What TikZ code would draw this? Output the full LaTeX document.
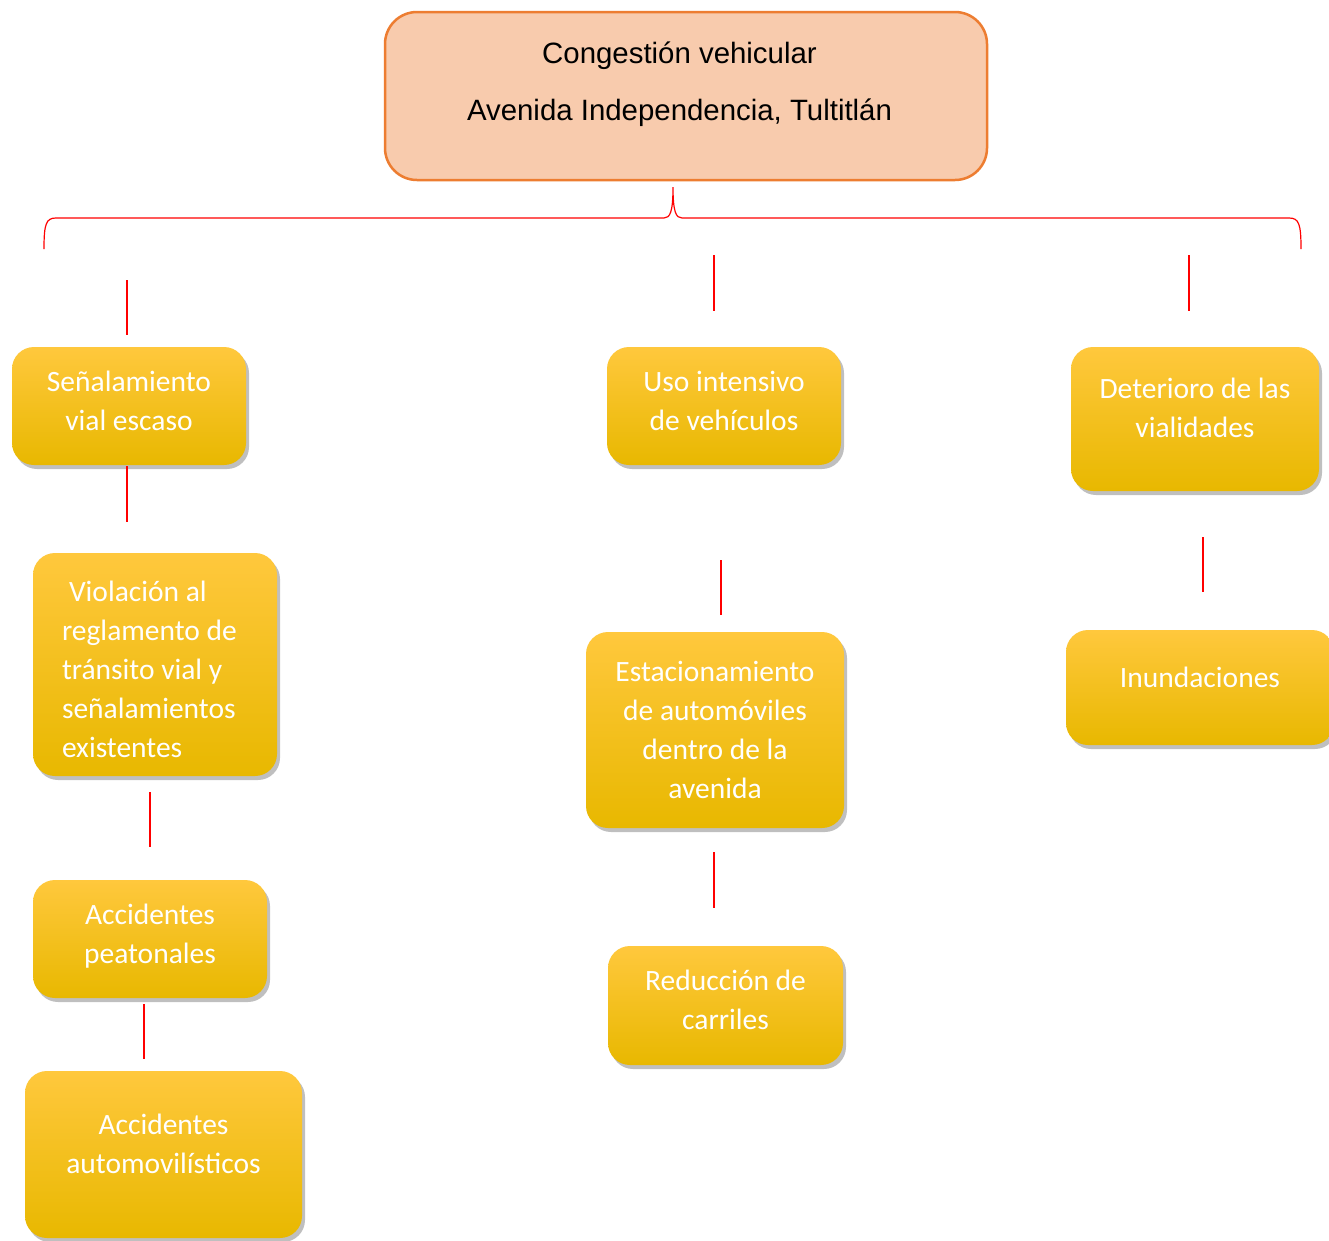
\documentclass[tikz,border=0pt]{standalone}
\usepackage{fontspec}
\setmainfont{Carlito}
\newfontfamily\arialf{Liberation Sans}
\usetikzlibrary{shadows}
\definecolor{peach}{HTML}{F8CBAD}
\definecolor{orangeb}{HTML}{ED7D31}
\definecolor{ytop}{HTML}{FFC83D}
\definecolor{ymid}{HTML}{FFC000}
\definecolor{ybot}{HTML}{E8B800}
\newcommand{\liftup}[1]{\\[#1]\mbox{}}
\tikzset{
  ybox/.style={rectangle, rounded corners=22, top color=ytop, middle color=ymid, bottom color=ybot,
    text=white, font=\fontsize{29.5}{39}\selectfont, align=center, inner sep=0pt,
    drop shadow={shadow xshift=3pt, shadow yshift=-4pt, fill=black, opacity=0.25}},
  topbox/.style={rectangle, rounded corners=32, fill=peach, draw=orangeb, line width=2.5pt,
    font=\arialf\fontsize{29.4}{57}\selectfont, inner sep=0pt},
  rline/.style={draw=red, line width=1.2pt},
}
\begin{document}
\begin{tikzpicture}[x=1pt,y=-1pt]
\clip (0,0) rectangle (1329,1240);
\fill[white] (0,0) rectangle (1329,1240);

\node[topbox, minimum width=602, minimum height=168] (top) at (686,96)
  {\raisebox{9.5pt}[0pt][0pt]{\begin{tabular}{@{}c@{}}Congestión vehicular\\Avenida Independencia, Tultitlán\end{tabular}}\hspace*{13pt}};

% brace
\coordinate (bl) at (44,249);
\coordinate (br) at (1301,249);
\coordinate (bt) at (673,187);
\draw[red, line width=1.2pt] (bl) .. controls (44,224) and (46,218) .. (56,218) -- (664,218)
  .. controls (670,218) and (673,212) .. (bt) .. controls (673,212) and (676,218) .. (682,218)
  -- (1289,218) .. controls (1299,218) and (1301,224) .. (br);

% boxes
\node[ybox, minimum width=234, minimum height=118] (b1) at (129,406) {Señalamiento\\vial escaso\liftup{-28pt}};
\node[ybox, minimum width=234, minimum height=118] (b2) at (724,406) {Uso intensivo\\de vehículos\liftup{-28pt}};
\node[ybox, minimum width=248, minimum height=144] (b3) at (1195,419) {Deterioro de las\\vialidades\liftup{-17pt}};
\node[ybox, minimum height=223, text width=186, inner xsep=29, align=flush left] (b4) at (155,664.5)
  {\rule{0pt}{31pt}\hspace*{7pt}Violación al\\reglamento de\\tránsito vial y\\señalamientos\\existentes};
\node[ybox, minimum width=234, minimum height=118] (b5) at (150,939) {Accidentes\\peatonales\liftup{-28pt}};
\node[ybox, minimum width=277, minimum height=167] (b6) at (163.5,1154.5) {Accidentes\\automovilísticos\liftup{-17pt}};
\node[ybox, minimum width=258, minimum height=196] (b7) at (715,730) {Estacionamiento\\de automóviles\\dentro de la\\avenida};
\node[ybox, minimum width=235, minimum height=119] (b8) at (725.5,1005.5) {Reducción de\\carriles\liftup{-28pt}};
\node[ybox, minimum width=268, minimum height=115] (b9) at (1200,687.5) {Inundaciones\liftup{-19pt}};

% red segments
\coordinate (l1a) at (127,280);  \coordinate (l1b) at (127,335);
\coordinate (l2a) at (714,255);  \coordinate (l2b) at (714,311);
\coordinate (l3a) at (1189,255); \coordinate (l3b) at (1189,311);
\coordinate (l4a) at (127,466);  \coordinate (l4b) at (127,522);
\coordinate (l5a) at (721,560);  \coordinate (l5b) at (721,615);
\coordinate (l6a) at (1203,537); \coordinate (l6b) at (1203,592);
\coordinate (l7a) at (150,792);  \coordinate (l7b) at (150,847);
\coordinate (l8a) at (714,852);  \coordinate (l8b) at (714,908);
\coordinate (l9a) at (144,1004); \coordinate (l9b) at (144,1059);
\foreach \s in {1,...,9} { \draw[rline] (l\s a) -- (l\s b); }
\end{tikzpicture}
\end{document}
